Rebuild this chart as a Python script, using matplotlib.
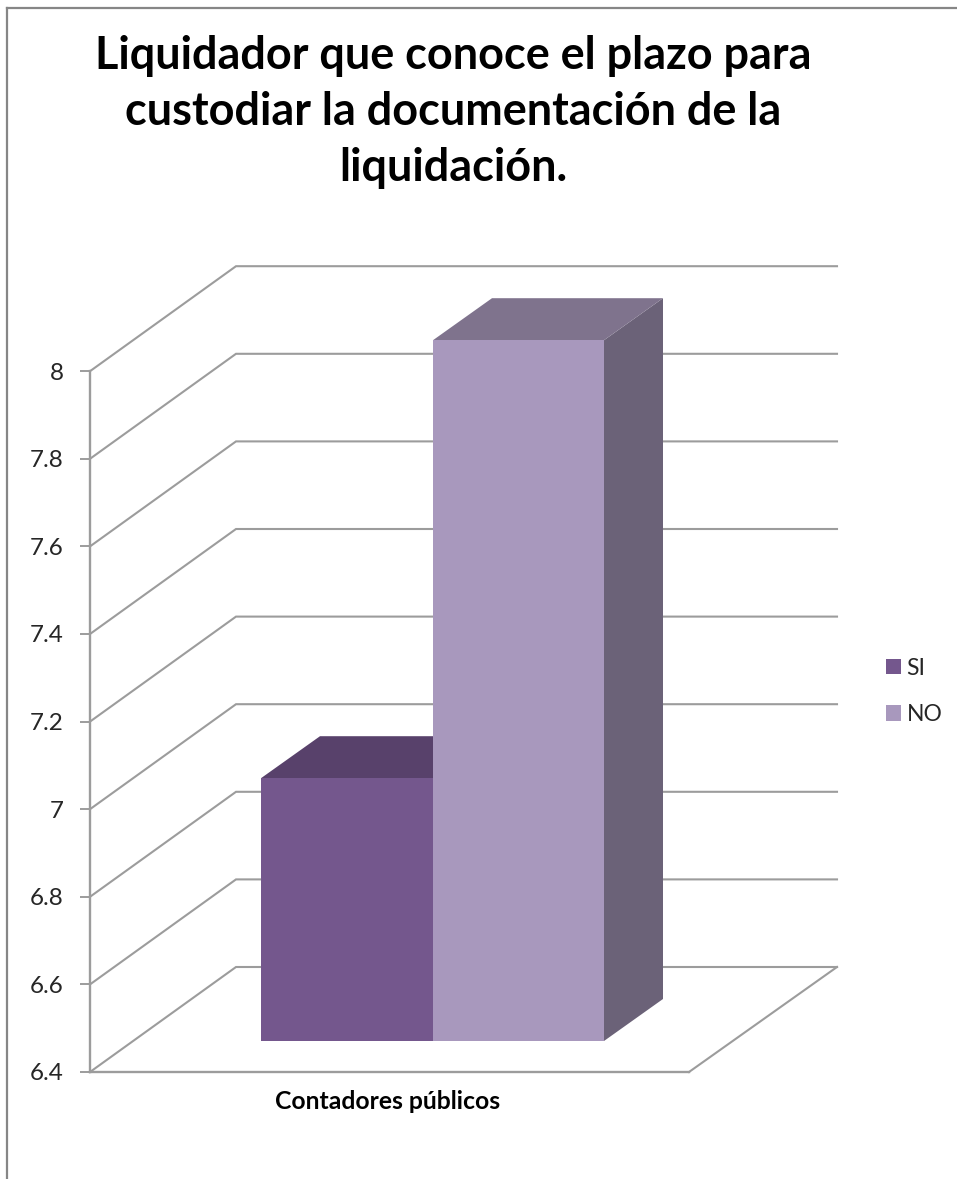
import matplotlib
matplotlib.use("Agg")
import matplotlib.pyplot as plt
from matplotlib.lines import Line2D
from matplotlib.patches import Polygon, Patch

# datos -------------------------------------------------------------
titulo = "Liquidador que conoce el plazo para\ncustodiar la documentación de la\nliquidación."
categoria = "Contadores públicos"
series = ["SI", "NO"]
valores = [7, 8]
ticks = [6.4, 6.6, 6.8, 7, 7.2, 7.4, 7.6, 7.8, 8]
tick_labels = ["6.4", "6.6", "6.8", "7", "7.2", "7.4", "7.6", "7.8", "8"]

color_frente = ["#74578D", "#A898BD"]
color_techo = ["#58416B", "#7F738D"]
color_lado = ["#4F3B60", "#6B6278"]
color_linea = "#9C9C9C"

ANCHO, ALTO = 957, 1179
piso = ticks[0]
px_por_unidad = 438.0          # pixeles verticales por unidad del eje

# geometria de la caja 3D, en pixeles
x0, x1 = 90, 689               # plano frontal del piso
fondo_dx, fondo_dy = 146, 105  # profundidad de la caja
barra_x = [261, 433, 604]      # bordes de las barras
barra_dx, barra_dy = 59, 42    # profundidad de cada barra
barra_base = 31                # distancia de la barra al frente del piso


def alto(px):
    return px / px_por_unidad


figura = plt.figure(figsize=(ANCHO / 100, ALTO / 100), dpi=100)
ax = figura.add_axes([0, 0, 1, 1])
ax.set_xlim(0, ANCHO)
ax.set_ylim(piso - alto(ALTO - 1072), piso + alto(1072))
ax.patch.set_visible(False)

plt.rcParams["font.family"] = ["Lato", "DejaVu Sans"]

# marco del grafico ---------------------------------------------------
figura.add_artist(Line2D([7.5 / ANCHO, 7.5 / ANCHO], [0, 1 - 7.5 / ALTO], color="#868686", lw=1.6))
figura.add_artist(Line2D([7.5 / ANCHO, 1], [1 - 7.5 / ALTO, 1 - 7.5 / ALTO], color="#868686", lw=1.6))

# ejes ---------------------------------------------------------------
for lado in ["top", "right"]:
    ax.spines[lado].set_visible(False)
ax.spines["left"].set_position(("data", x0))
ax.spines["left"].set_bounds(ticks[0], ticks[-1])
ax.spines["bottom"].set_position(("data", piso))
ax.spines["bottom"].set_bounds(x0, x1)
for lado in ["left", "bottom"]:
    ax.spines[lado].set_color(color_linea)
    ax.spines[lado].set_linewidth(1.7)

ax.set_yticks(ticks)
ax.set_yticklabels(tick_labels, family="Lato", fontsize=17.5, color="#262626")
ax.tick_params(axis="y", length=7, width=1.4, color=color_linea, pad=12)
ax.set_xticks([(x0 + x1) / 2 - 2])
ax.set_xticklabels([categoria], family="Lato", fontsize=17.8, fontweight="bold", color="black")
ax.tick_params(axis="x", length=0, pad=13)

# lineas de division sobre las paredes y el piso
fondo = alto(fondo_dy)
for valor in ticks:
    ax.plot([x0, x0 + fondo_dx, 837], [valor, valor + fondo, valor + fondo],
            color=color_linea, lw=1.5, zorder=1, solid_joinstyle="miter")
ax.plot([x1, 837], [piso, piso + fondo], color=color_linea, lw=1.5, zorder=1)

# barras -------------------------------------------------------------
base = alto(barra_base)
prof = alto(barra_dy)
for i, valor in enumerate(valores):
    izq, der = barra_x[i], barra_x[i + 1]
    abajo = piso + base
    arriba = valor + base
    ax.add_patch(Polygon([(der, abajo), (der + barra_dx, abajo + prof), (der + barra_dx, arriba + prof), (der, arriba)],
                         facecolor=color_lado[i], edgecolor="none", zorder=3 + i))
    ax.add_patch(Polygon([(izq, arriba), (der, arriba), (der + barra_dx, arriba + prof), (izq + barra_dx, arriba + prof)],
                         facecolor=color_techo[i], edgecolor="none", zorder=3 + i))
    ax.add_patch(Polygon([(izq, abajo), (der, abajo), (der, arriba), (izq, arriba)],
                         facecolor=color_frente[i], edgecolor="none", zorder=3 + i))

# titulo y leyenda ---------------------------------------------------
figura.text(453 / ANCHO, 1 - 112 / ALTO, titulo, ha="center", va="center", family="Lato",
            fontsize=32.4, fontweight="bold", color="black", linespacing=1.41)

manijas = [Patch(facecolor=c, edgecolor="none") for c in color_frente]
ax.legend(manijas, series, loc="center left", bbox_to_anchor=(865 / ANCHO, 1 - 691.5 / ALTO),
          frameon=False, prop={"family": "Lato", "size": 16.5}, handlelength=0.65, handleheight=0.65,
          handletextpad=0.26, labelspacing=1.1, labelcolor="#262626")

figura.savefig("out.png", dpi=100)
